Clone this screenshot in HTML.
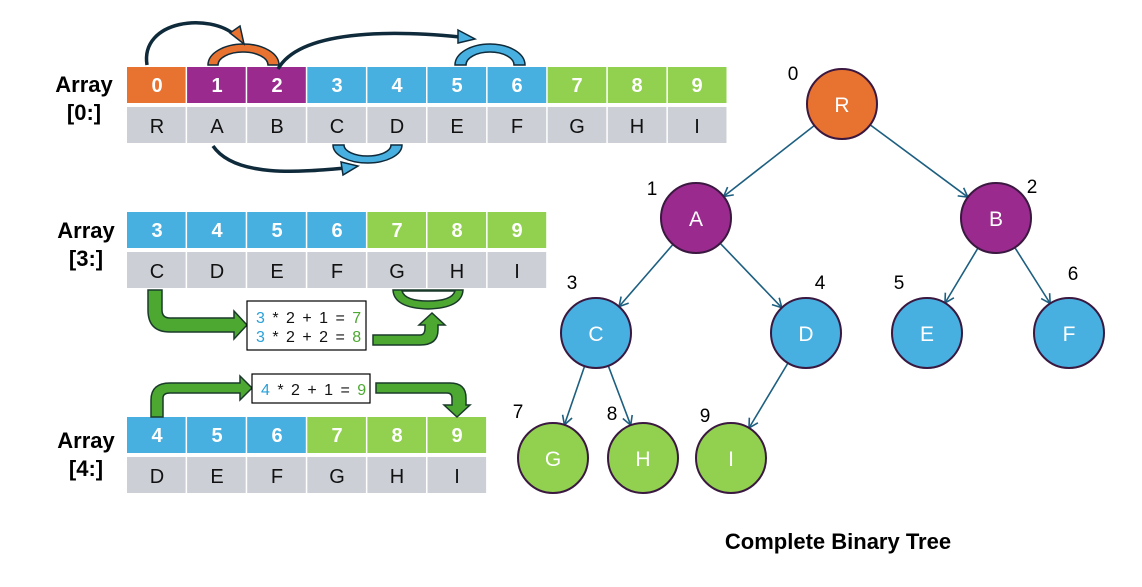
<!DOCTYPE html>
<html><head><meta charset="utf-8"><style>
html,body{margin:0;padding:0;background:#fff;}
svg{display:block;font-family:"Liberation Sans","Noto Sans CJK KR",sans-serif;}
.idx{fill:#fff;font-weight:bold;font-size:20px;text-anchor:middle;}
.val{fill:#111;font-size:20px;text-anchor:middle;}
.lbl{fill:#000;font-weight:bold;font-size:22px;text-anchor:middle;}
.nt{fill:#fff;font-size:21px;text-anchor:middle;}
.num{fill:#000;font-size:19px;text-anchor:middle;}
.edge{stroke:#1d5f80;stroke-width:1.6;fill:none;}
.dk{stroke:#0f2a3a;stroke-width:3.5;fill:none;}
.nd{stroke:#3a1840;stroke-width:2;}
</style></head><body>
<svg width="1142" height="587" viewBox="0 0 1142 587">
<defs>
<marker id="ah" markerWidth="12" markerHeight="12" refX="10" refY="6" orient="auto" markerUnits="userSpaceOnUse">
<path d="M1,1 L10,6 L1,11" fill="none" stroke="#1d5f80" stroke-width="1.6"/></marker>
</defs>
<g>
<rect x="127" y="67" width="58.6" height="36" fill="#e8722f"/>
<rect x="187.1" y="67" width="58.6" height="36" fill="#9b2a8f"/>
<rect x="247.2" y="67" width="58.6" height="36" fill="#9b2a8f"/>
<rect x="307.3" y="67" width="58.6" height="36" fill="#47b0e0"/>
<rect x="367.4" y="67" width="58.6" height="36" fill="#47b0e0"/>
<rect x="427.5" y="67" width="58.6" height="36" fill="#47b0e0"/>
<rect x="487.6" y="67" width="58.6" height="36" fill="#47b0e0"/>
<rect x="547.7" y="67" width="58.6" height="36" fill="#92d050"/>
<rect x="607.8" y="67" width="58.6" height="36" fill="#92d050"/>
<rect x="667.9" y="67" width="58.6" height="36" fill="#92d050"/>
<g fill="#ccd0d6">
<rect x="127" y="107" width="58.6" height="36"/><rect x="187.1" y="107" width="58.6" height="36"/><rect x="247.2" y="107" width="58.6" height="36"/><rect x="307.3" y="107" width="58.6" height="36"/><rect x="367.4" y="107" width="58.6" height="36"/><rect x="427.5" y="107" width="58.6" height="36"/><rect x="487.6" y="107" width="58.6" height="36"/><rect x="547.7" y="107" width="58.6" height="36"/><rect x="607.8" y="107" width="58.6" height="36"/><rect x="667.9" y="107" width="58.6" height="36"/>
</g>
<text class="idx" x="157" y="92">0</text><text class="idx" x="217" y="92">1</text><text class="idx" x="277" y="92">2</text><text class="idx" x="337" y="92">3</text><text class="idx" x="397" y="92">4</text><text class="idx" x="457" y="92">5</text><text class="idx" x="517" y="92">6</text><text class="idx" x="577" y="92">7</text><text class="idx" x="637" y="92">8</text><text class="idx" x="697" y="92">9</text>
<text class="val" x="157" y="133">R</text><text class="val" x="217" y="133">A</text><text class="val" x="277" y="133">B</text><text class="val" x="337" y="133">C</text><text class="val" x="397" y="133">D</text><text class="val" x="457" y="133">E</text><text class="val" x="517" y="133">F</text><text class="val" x="577" y="133">G</text><text class="val" x="637" y="133">H</text><text class="val" x="697" y="133">I</text>
</g>
<g>
<rect x="127" y="212" width="58.6" height="36" fill="#47b0e0"/>
<rect x="187.1" y="212" width="58.6" height="36" fill="#47b0e0"/>
<rect x="247.2" y="212" width="58.6" height="36" fill="#47b0e0"/>
<rect x="307.3" y="212" width="58.6" height="36" fill="#47b0e0"/>
<rect x="367.4" y="212" width="58.6" height="36" fill="#92d050"/>
<rect x="427.5" y="212" width="58.6" height="36" fill="#92d050"/>
<rect x="487.6" y="212" width="58.6" height="36" fill="#92d050"/>
<g fill="#ccd0d6">
<rect x="127" y="252" width="58.6" height="36"/><rect x="187.1" y="252" width="58.6" height="36"/><rect x="247.2" y="252" width="58.6" height="36"/><rect x="307.3" y="252" width="58.6" height="36"/><rect x="367.4" y="252" width="58.6" height="36"/><rect x="427.5" y="252" width="58.6" height="36"/><rect x="487.6" y="252" width="58.6" height="36"/>
</g>
<text class="idx" x="157" y="237">3</text><text class="idx" x="217" y="237">4</text><text class="idx" x="277" y="237">5</text><text class="idx" x="337" y="237">6</text><text class="idx" x="397" y="237">7</text><text class="idx" x="457" y="237">8</text><text class="idx" x="517" y="237">9</text>
<text class="val" x="157" y="278">C</text><text class="val" x="217" y="278">D</text><text class="val" x="277" y="278">E</text><text class="val" x="337" y="278">F</text><text class="val" x="397" y="278">G</text><text class="val" x="457" y="278">H</text><text class="val" x="517" y="278">I</text>
</g>
<g>
<rect x="127" y="417" width="58.6" height="36" fill="#47b0e0"/>
<rect x="187.1" y="417" width="58.6" height="36" fill="#47b0e0"/>
<rect x="247.2" y="417" width="58.6" height="36" fill="#47b0e0"/>
<rect x="307.3" y="417" width="58.6" height="36" fill="#92d050"/>
<rect x="367.4" y="417" width="58.6" height="36" fill="#92d050"/>
<rect x="427.5" y="417" width="58.6" height="36" fill="#92d050"/>
<g fill="#ccd0d6">
<rect x="127" y="457" width="58.6" height="36"/><rect x="187.1" y="457" width="58.6" height="36"/><rect x="247.2" y="457" width="58.6" height="36"/><rect x="307.3" y="457" width="58.6" height="36"/><rect x="367.4" y="457" width="58.6" height="36"/><rect x="427.5" y="457" width="58.6" height="36"/>
</g>
<text class="idx" x="157" y="442">4</text><text class="idx" x="217" y="442">5</text><text class="idx" x="277" y="442">6</text><text class="idx" x="337" y="442">7</text><text class="idx" x="397" y="442">8</text><text class="idx" x="457" y="442">9</text>
<text class="val" x="157" y="483">D</text><text class="val" x="217" y="483">E</text><text class="val" x="277" y="483">F</text><text class="val" x="337" y="483">G</text><text class="val" x="397" y="483">H</text><text class="val" x="457" y="483">I</text>
</g>
<text class="lbl" x="84" y="92">Array</text><text class="lbl" x="84" y="120">[0:]</text>
<text class="lbl" x="86" y="238">Array</text><text class="lbl" x="86" y="266">[3:]</text>
<text class="lbl" x="86" y="448">Array</text><text class="lbl" x="86" y="476">[4:]</text>
<g class="edge">
<line x1="814.4" y1="125.5" x2="723.6" y2="196.5" marker-end="url(#ah)"/>
<line x1="870.1" y1="124.8" x2="967.9" y2="197.2" marker-end="url(#ah)"/>
<line x1="673" y1="244.4" x2="619" y2="306.6" marker-end="url(#ah)"/>
<line x1="720.2" y1="243.3" x2="781.8" y2="307.7" marker-end="url(#ah)"/>
<line x1="978" y1="248" x2="945" y2="303" marker-end="url(#ah)"/>
<line x1="1014.8" y1="247.5" x2="1050.2" y2="303.5" marker-end="url(#ah)"/>
<line x1="584.6" y1="366.1" x2="564.4" y2="424.9" marker-end="url(#ah)"/>
<line x1="608.3" y1="365.8" x2="630.7" y2="425.2" marker-end="url(#ah)"/>
<line x1="788" y1="363" x2="749" y2="428" marker-end="url(#ah)"/>
</g>
<circle class="nd" cx="842" cy="104" r="35" fill="#e8722f"/>
<circle class="nd" cx="696" cy="218" r="35" fill="#9b2a8f"/>
<circle class="nd" cx="996" cy="218" r="35" fill="#9b2a8f"/>
<circle class="nd" cx="596" cy="333" r="35" fill="#47b0e0"/>
<circle class="nd" cx="806" cy="333" r="35" fill="#47b0e0"/>
<circle class="nd" cx="927" cy="333" r="35" fill="#47b0e0"/>
<circle class="nd" cx="1069" cy="333" r="35" fill="#47b0e0"/>
<circle class="nd" cx="553" cy="458" r="35" fill="#92d050"/>
<circle class="nd" cx="643" cy="458" r="35" fill="#92d050"/>
<circle class="nd" cx="731" cy="458" r="35" fill="#92d050"/>
<text class="nt" x="842" y="112">R</text><text class="nt" x="696" y="226">A</text><text class="nt" x="996" y="226">B</text><text class="nt" x="596" y="341">C</text><text class="nt" x="806" y="341">D</text><text class="nt" x="927" y="341">E</text><text class="nt" x="1069" y="341">F</text><text class="nt" x="553" y="466">G</text><text class="nt" x="643" y="466">H</text><text class="nt" x="731" y="466">I</text>
<text class="num" x="793" y="80">0</text><text class="num" x="652" y="195">1</text><text class="num" x="1032" y="193">2</text><text class="num" x="572" y="289">3</text><text class="num" x="820" y="289">4</text><text class="num" x="899" y="289">5</text><text class="num" x="1073" y="280">6</text><text class="num" x="518" y="418">7</text><text class="num" x="612" y="420">8</text><text class="num" x="705" y="422">9</text>
<text class="lbl" x="838" y="549">Complete Binary Tree</text>
<path d="M208,65 A35.5,21 0 0 1 279,65 L268,65 A25,13 0 0 0 218,65 Z" fill="#e8722f" stroke="#0f2a3a" stroke-width="1.5"/>
<path d="M455,65 A35,21 0 0 1 525,65 L514,65 A24,13 0 0 0 466,65 Z" fill="#47b0e0" stroke="#0f2a3a" stroke-width="1.5"/>
<path d="M147,65 C140,20 210,12 236,36" class="dk"/>
<path d="M230,33 L244,44 L240,26 Z" fill="#e8722f" stroke="#0f2a3a" stroke-width="1.5"/>
<path d="M278,69 C300,30 390,30 460,37" class="dk"/>
<path d="M458,30 L475,39 L458,43 Z" fill="#47b0e0" stroke="#0f2a3a" stroke-width="1.5"/>
<path d="M333,145 A34.5,18 0 0 0 402,145 L391,145 A23.5,11 0 0 1 344,145 Z" fill="#47b0e0" stroke="#0f2a3a" stroke-width="1.5"/>
<path d="M213,146 C235,178 300,172 345,168" class="dk"/>
<path d="M341,162 L358,166 L343,175 Z" fill="#47b0e0" stroke="#0f2a3a" stroke-width="1.5"/>
<g fill="#4da832" stroke="#1a3a2a" stroke-width="1.5">
<path d="M148,290 L162,290 L162,310 Q162,318 170,318 L234,318 L234,311 L247,325 L234,339 L234,332 L170,332 Q148,332 148,310 Z"/>
<path d="M373,335 L420,335 Q425,335 425,328 L425,325 L419,325 L432,313 L445,325 L438,325 L438,330 Q438,345 420,345 L373,345 Z"/>
<path d="M393,290 L463,290 Q462,308 428,309 Q394,308 393,290 Z M402,291 Q405,301 428,301 Q452,301 455,291 Z" fill-rule="evenodd"/>
<path d="M151,417 L163,417 L163,398 Q163,393 170,393 L240,393 L240,400 L252,388 L240,376 L240,383 L170,383 Q151,383 151,400 Z"/>
<path d="M376,383 L450,383 Q466,383 466,398 L466,405 L470,405 L457,417 L444,405 L452,405 L452,398 Q452,393 447,393 L376,393 Z"/>
</g>
<rect x="247" y="301" width="119" height="49" fill="#fff" stroke="#000" stroke-width="1.2"/>
<rect x="252" y="374" width="118" height="29" fill="#fff" stroke="#000" stroke-width="1.2"/>
<g font-size="16" fill="#111" letter-spacing="1.5">
<text x="256" y="323"><tspan fill="#2aa0d8">3</tspan> * 2 + 1 = <tspan fill="#4da832">7</tspan></text>
<text x="256" y="342"><tspan fill="#2aa0d8">3</tspan> * 2 + 2 = <tspan fill="#4da832">8</tspan></text>
<text x="261" y="395"><tspan fill="#2aa0d8">4</tspan> * 2 + 1 = <tspan fill="#4da832">9</tspan></text>
</g>
</svg>
</body></html>
